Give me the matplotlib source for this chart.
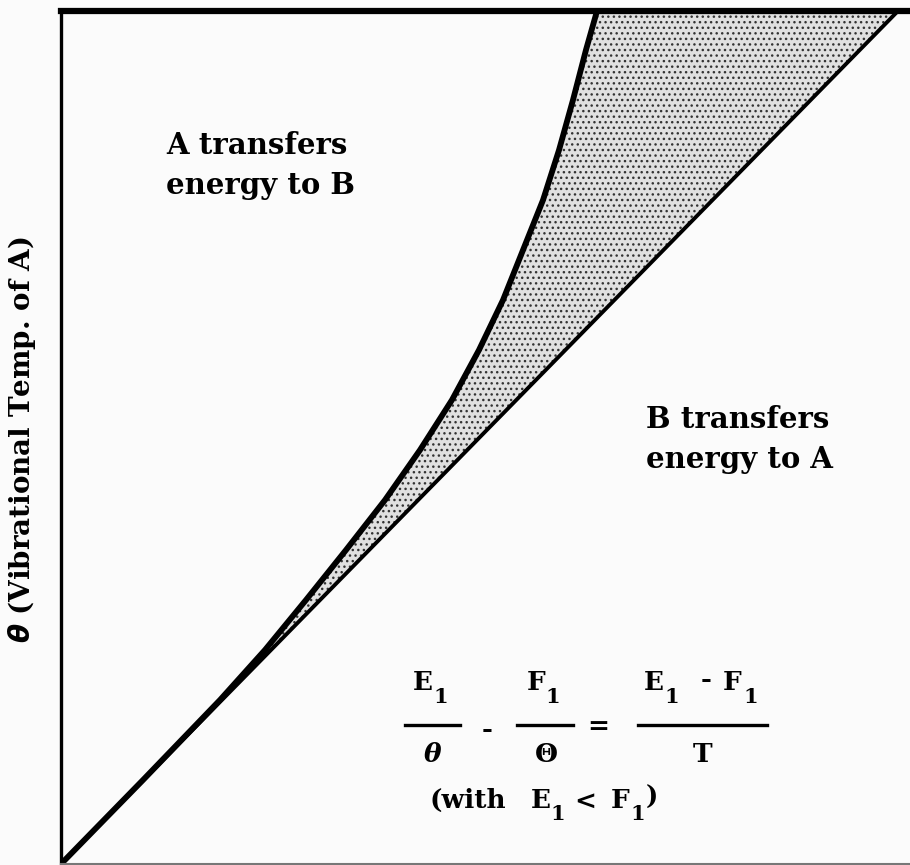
import matplotlib.pyplot as plt
import numpy as np

# Theta (horizontal) vs theta (vertical), both as % of the plotted range
diag_x = [0, 100]
diag_y = [0, 100]

# boundary where the direction of energy transfer reverses
curve_x = [0, 9.80, 19.00, 24.37, 29.27, 34.05, 38.71, 42.89, 46.71, 49.94,
           52.81, 55.20, 57.59, 59.50, 61.17, 62.72, 64.04]
curve_y = [0, 9.85, 19.23, 25.09, 30.95, 36.81, 42.67, 48.53, 54.40, 60.26,
           66.12, 71.98, 77.84, 83.70, 89.57, 95.43, 100]

W, H = 910, 865
fig = plt.figure(figsize=(W / 100, H / 100), dpi=100)
fig.patch.set_facecolor('#fbfbfb')
ax = fig.add_axes([61 / W, 1 / H, 849 / W, 853 / H])
ax.set_facecolor('#fbfbfb')
ax.set_xlim(0, 100 * 849 / 837)
ax.set_ylim(0, 100)
ax.set_xticks([])
ax.set_yticks([])
ax.spines['right'].set_visible(False)
ax.spines['left'].set_linewidth(2.4)
ax.spines['top'].set_linewidth(4.5)
ax.spines['bottom'].set_linewidth(1.5)
ax.spines['bottom'].set_color('#777777')

# stippled wedge between the curve and the diagonal
yy = np.array(curve_y)
ax.fill_betweenx(yy, curve_x, yy, facecolor='#e0e0e0', edgecolor='#333333',
                 hatch='...', linewidth=0)

ax.plot(diag_x, diag_y, color='black', lw=2.8, solid_capstyle='butt')
ax.plot(curve_x, curve_y, color='black', lw=4.2, solid_capstyle='butt',
        solid_joinstyle='round')

font = dict(family='DejaVu Serif', weight='bold', size=21)

def px(x, y, s, **kw):
    d = dict(font)
    d.update(kw)
    fig.text(x / W, 1 - y / H, s, **d)

px(166, 145, 'A transfers', va='center')
px(166, 185, 'energy to B', va='center')
px(646, 420, 'B transfers', va='center')
px(646, 460, 'energy to A', va='center')
px(22, 440, r'$\boldsymbol{\theta}$ (Vibrational Temp. of A)', rotation=90,
   ha='center', va='center', size=20)

def sym(x, y, s, **kw):
    d = dict(size=19)
    d.update(kw)
    px(x, y, s, ha='center', va='center', **d)

def frac_line(x0, x1, y):
    fig.add_artist(plt.Line2D([x0 / W, x1 / W], [1 - y / H, 1 - y / H],
                              color='black', lw=2.4))

# E1/theta - F1/Theta = (E1 - F1)/T
sym(423, 682, 'E')
sym(441, 697, '1', size=15)
frac_line(405, 460, 725)
sym(433, 755, 'θ', style='italic')
sym(487, 729, '-')
sym(536, 682, 'F')
sym(553, 697, '1', size=15)
frac_line(517, 573, 725)
sym(546, 755, 'Θ')
sym(598, 727, '=')
sym(654, 682, 'E')
sym(672, 697, '1', size=15)
sym(706, 680, '-')
sym(732, 682, 'F')
sym(751, 697, '1', size=15)
frac_line(638, 767, 725)
sym(703, 755, 'T')

px(430, 800, '(with', va='center', size=19)
sym(541, 800, 'E')
sym(558, 814, '1', size=15)
sym(585, 801, '<')
sym(620, 800, 'F')
sym(638, 814, '1', size=15)
sym(652, 797, ')')

fig.savefig('out.png', dpi=100, facecolor=fig.get_facecolor())
